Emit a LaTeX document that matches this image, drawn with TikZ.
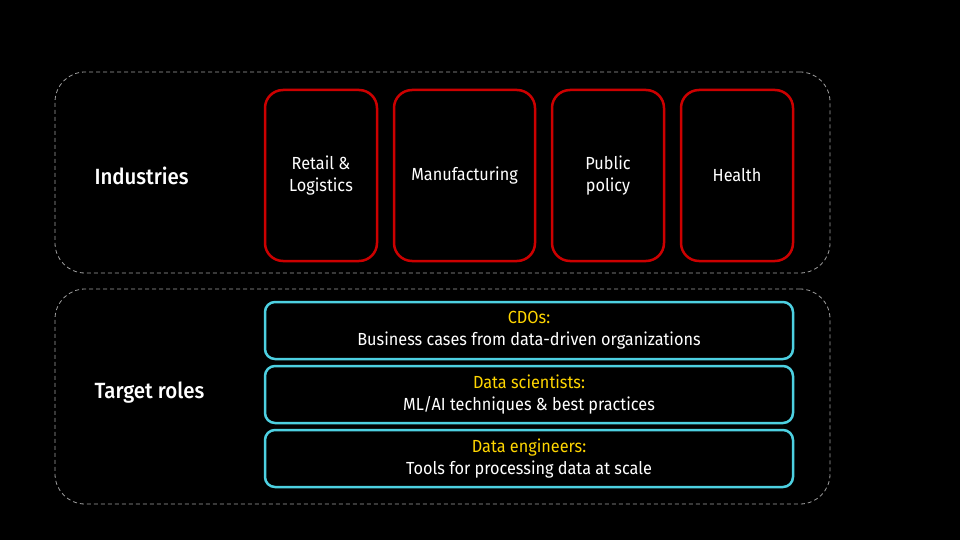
\documentclass[tikz,border=0pt]{standalone}
\usepackage{fontspec}
\setmainfont{Fira Sans}[FakeStretch=0.93, BoldFont={Fira Sans Medium}]
\usetikzlibrary{positioning}
\definecolor{indred}{HTML}{CC0000}
\definecolor{rolecyan}{HTML}{4DD0E1}
\definecolor{roleyellow}{HTML}{FFD600}
\tikzset{
  groupbox/.style={draw=gray!75, dash pattern=on 4pt off 3pt, line width=0.8pt, rounded corners=30pt},
  indbox/.style={draw=indred, line width=2.5pt, rounded corners=18pt, minimum height=171pt, text=white, align=center, font=\fontsize{17.5}{22}\selectfont},
  rolebox/.style={draw=rolecyan, line width=2.5pt, rounded corners=10pt, minimum width=528pt, minimum height=57pt, text=white, align=center, font=\fontsize{17.5}{22}\selectfont},
  grouplabel/.style={anchor=west, text=white, font=\fontsize{22}{26}\selectfont\bfseries}
}
\begin{document}
\begin{tikzpicture}[x=1pt,y=-1pt]
\fill[black] (0,0) rectangle (960,540);
\useasboundingbox (0,0) rectangle (960,540);
% groups
\node[groupbox, minimum width=775pt, minimum height=201pt] (g1) at (442.5,172.5) {};
\node[groupbox, minimum width=775pt, minimum height=215pt] (g2) at (442.5,396.5) {};
\node[grouplabel] (ind) at (91,176) {Industries};
\node[grouplabel] (roles) at (91,393) {Target roles};
% industries
\node[indbox, minimum width=112pt] (1) at (321,175.5) {Retail \&\\Logistics};
\node[indbox, minimum width=141pt] (2) at (464.5,175.5) {Manufacturing};
\node[indbox, minimum width=112pt] (3) at (608,175.5) {Public\\policy};
\node[indbox, minimum width=112pt] (4) at (737,175.5) {Health};
% roles
\node[rolebox] (5) at (529,330.5) {\textcolor{roleyellow}{CDOs:}\\Business cases from data-driven organizations};
\node[rolebox] (6) at (529,394.5) {\textcolor{roleyellow}{Data scientists:}\\ML/AI techniques \& best practices};
\node[rolebox] (7) at (529,458.5) {\textcolor{roleyellow}{Data engineers:}\\Tools for processing data at scale};
\end{tikzpicture}
\end{document}
